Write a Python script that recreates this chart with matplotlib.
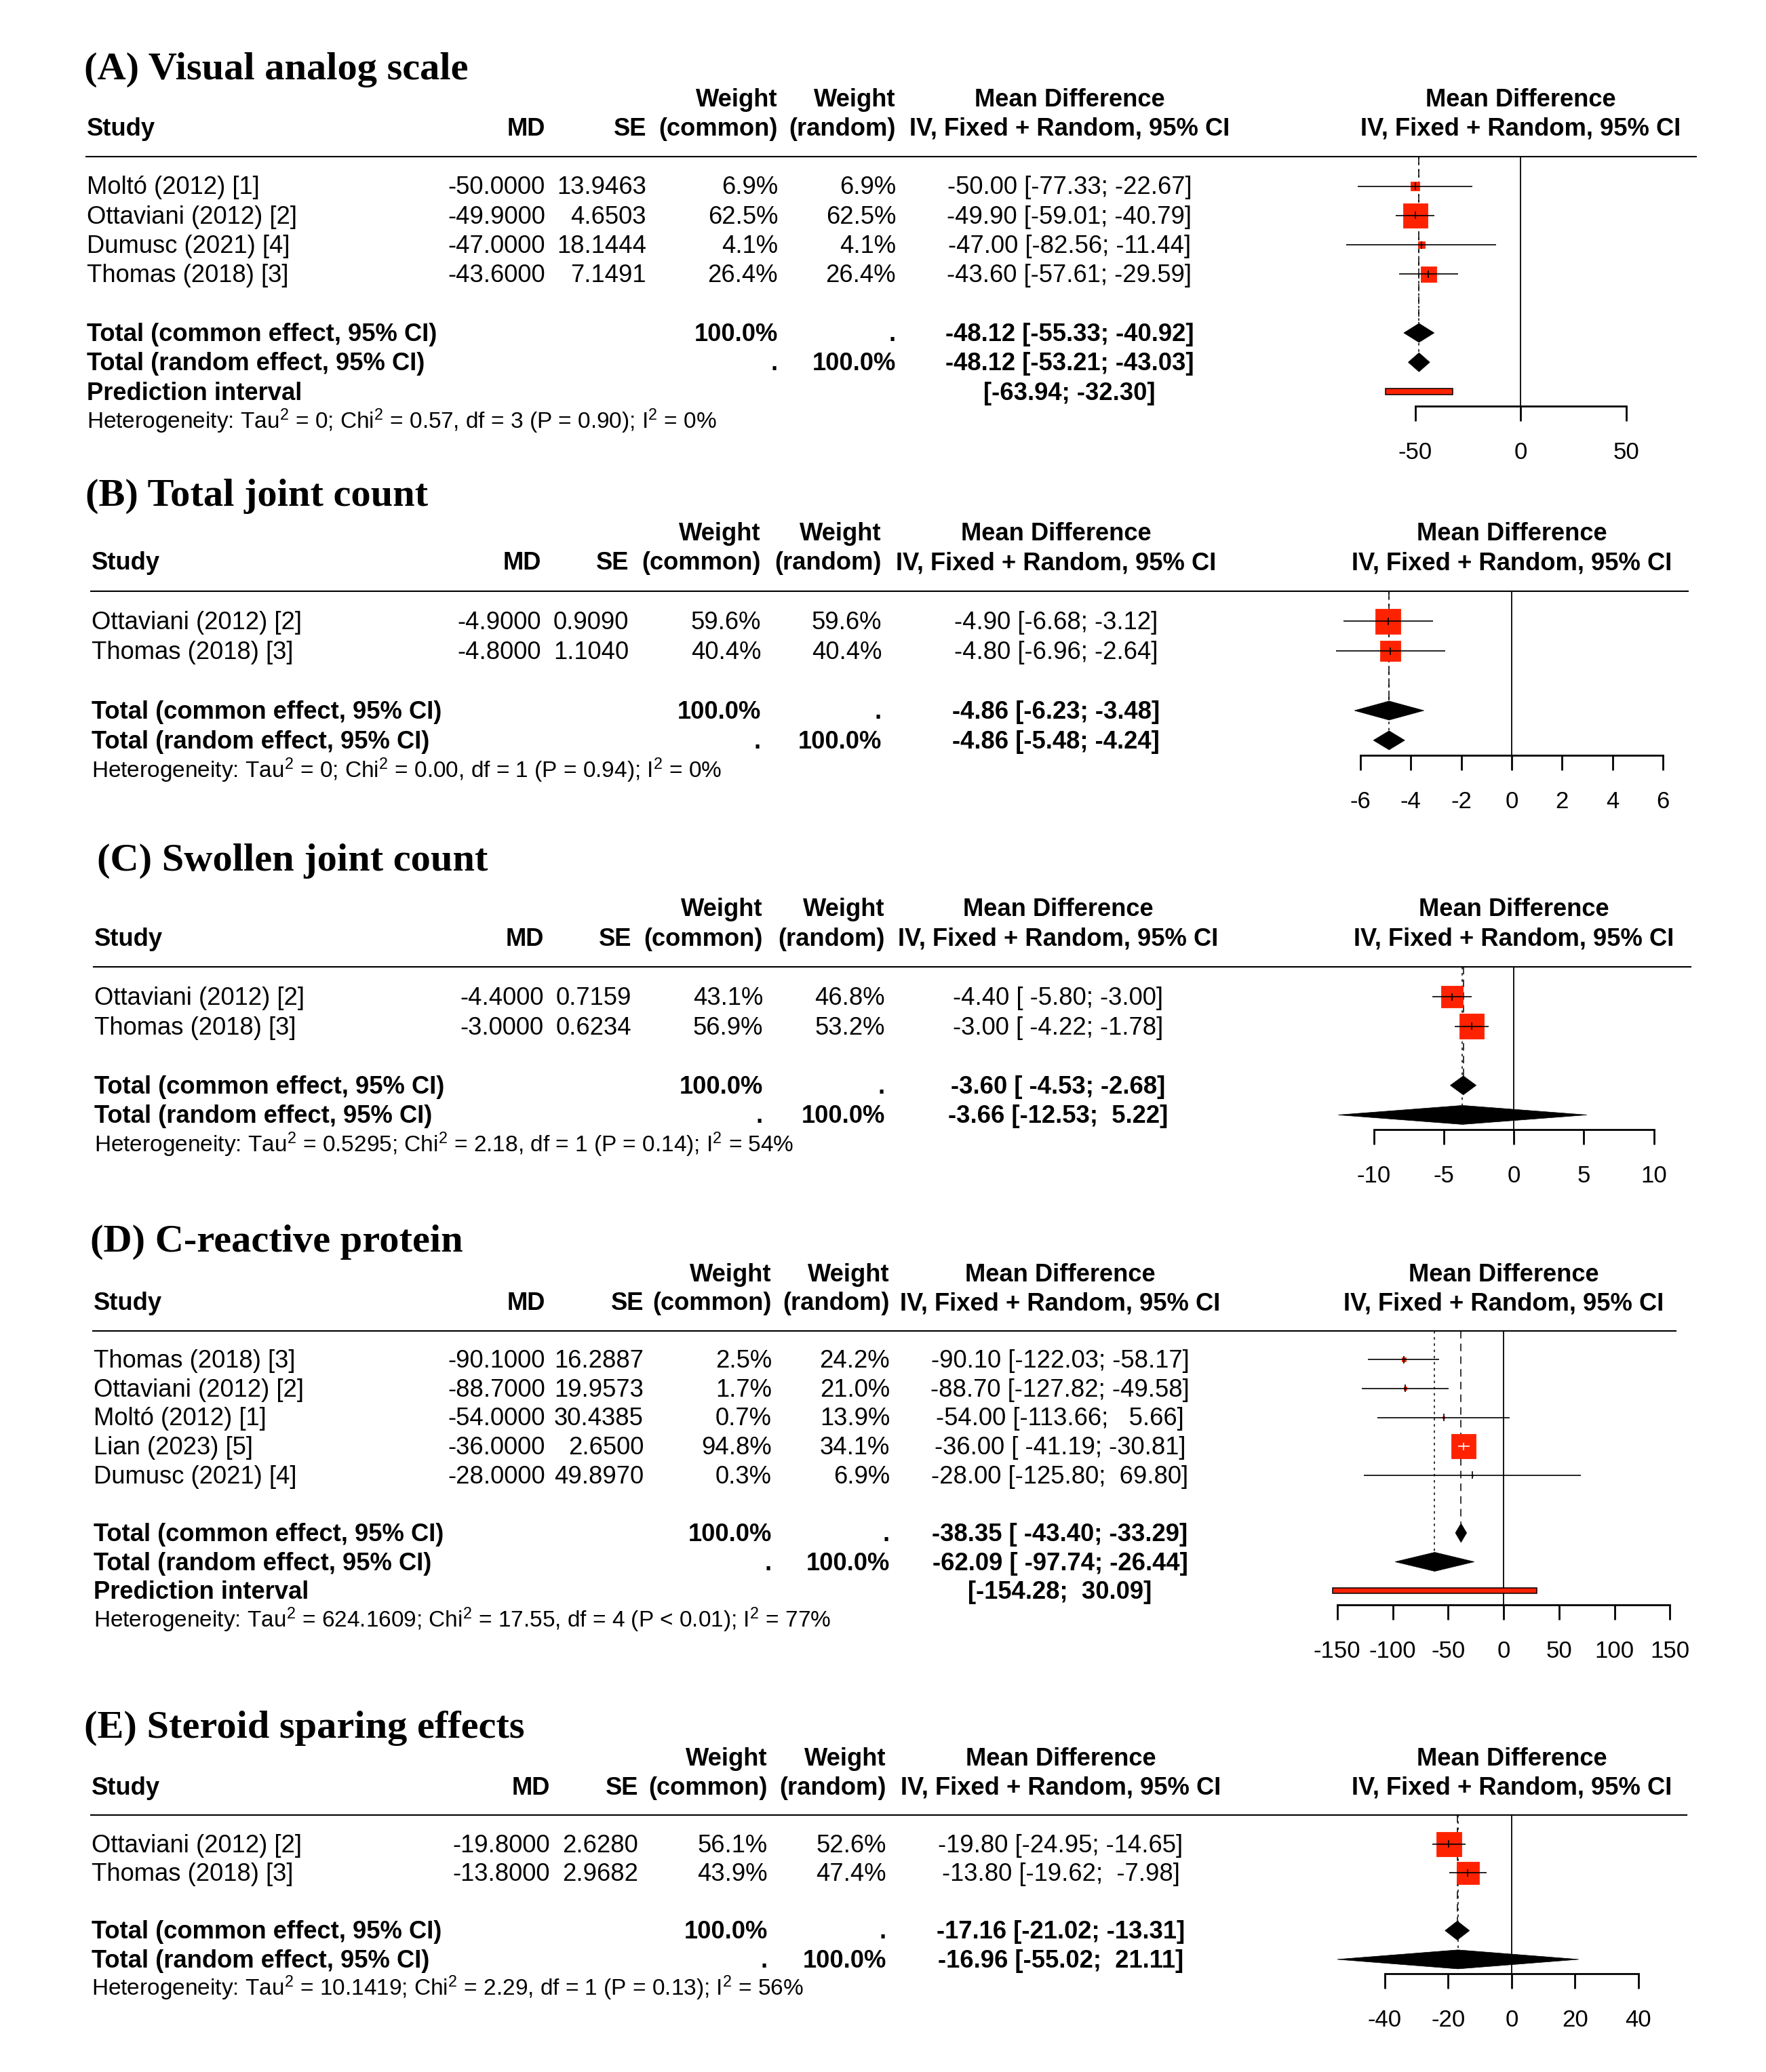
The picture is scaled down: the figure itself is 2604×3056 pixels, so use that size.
import matplotlib
matplotlib.use("Agg")
import matplotlib.pyplot as plt
from matplotlib.patches import Rectangle, Polygon
import numpy as np

plt.rcParams['font.family'] = ['Liberation Sans', 'DejaVu Sans']
plt.rcParams['mathtext.fontset'] = 'custom'
plt.rcParams['mathtext.rm'] = 'Liberation Sans'
plt.rcParams['mathtext.it'] = 'Liberation Sans'
plt.rcParams['mathtext.bf'] = 'Liberation Sans:bold'
plt.rcParams['mathtext.default'] = 'regular'
plt.rcParams['lines.scale_dashes'] = False
plt.rcParams['axes.unicode_minus'] = False

W, H, DPI = 2604, 3056, 100
PX = 72.0 / DPI

# ------------------------------------------------------------------ data
A_title = "(A) Visual analog scale"
A_study = ["Moltó (2012) [1]", "Ottaviani (2012) [2]", "Dumusc (2021) [4]", "Thomas (2018) [3]"]
A_md = [-50.0, -49.9, -47.0, -43.6]
A_se = [13.9463, 4.6503, 18.1444, 7.1491]
A_w_common = [6.9, 62.5, 4.1, 26.4]
A_w_random = [6.9, 62.5, 4.1, 26.4]
A_ci_lower = [-77.33, -59.01, -82.56, -57.61]
A_ci_upper = [-22.67, -40.79, -11.44, -29.59]
A_common = [-48.12, -55.33, -40.92]
A_random = [-48.12, -53.21, -43.03]
A_pred = [-63.94, -32.30]
A_ticks = [-50, 0, 50]
A_het = "Heterogeneity: Tau$^2$ = 0; Chi$^2$ = 0.57, df = 3 (P = 0.90); I$^2$ = 0%"

B_title = "(B) Total joint count"
B_study = ["Ottaviani (2012) [2]", "Thomas (2018) [3]"]
B_md = [-4.9, -4.8]
B_se = [0.9090, 1.1040]
B_w_common = [59.6, 40.4]
B_w_random = [59.6, 40.4]
B_ci_lower = [-6.68, -6.96]
B_ci_upper = [-3.12, -2.64]
B_common = [-4.86, -6.23, -3.48]
B_random = [-4.86, -5.48, -4.24]
B_pred = None
B_ticks = [-6, -4, -2, 0, 2, 4, 6]
B_het = "Heterogeneity: Tau$^2$ = 0; Chi$^2$ = 0.00, df = 1 (P = 0.94); I$^2$ = 0%"

C_title = "(C) Swollen joint count"
C_study = ["Ottaviani (2012) [2]", "Thomas (2018) [3]"]
C_md = [-4.4, -3.0]
C_se = [0.7159, 0.6234]
C_w_common = [43.1, 56.9]
C_w_random = [46.8, 53.2]
C_ci_lower = [-5.80, -4.22]
C_ci_upper = [-3.00, -1.78]
C_common = [-3.60, -4.53, -2.68]
C_random = [-3.66, -12.53, 5.22]
C_pred = None
C_ticks = [-10, -5, 0, 5, 10]
C_het = "Heterogeneity: Tau$^2$ = 0.5295; Chi$^2$ = 2.18, df = 1 (P = 0.14); I$^2$ = 54%"

D_title = "(D) C-reactive protein"
D_study = ["Thomas (2018) [3]", "Ottaviani (2012) [2]", "Moltó (2012) [1]", "Lian (2023) [5]", "Dumusc (2021) [4]"]
D_md = [-90.1, -88.7, -54.0, -36.0, -28.0]
D_se = [16.2887, 19.9573, 30.4385, 2.6500, 49.8970]
D_w_common = [2.5, 1.7, 0.7, 94.8, 0.3]
D_w_random = [24.2, 21.0, 13.9, 34.1, 6.9]
D_ci_lower = [-122.03, -127.82, -113.66, -41.19, -125.80]
D_ci_upper = [-58.17, -49.58, 5.66, -30.81, 69.80]
D_common = [-38.35, -43.40, -33.29]
D_random = [-62.09, -97.74, -26.44]
D_pred = [-154.28, 30.09]
D_ticks = [-150, -100, -50, 0, 50, 100, 150]
D_het = "Heterogeneity: Tau$^2$ = 624.1609; Chi$^2$ = 17.55, df = 4 (P < 0.01); I$^2$ = 77%"

E_title = "(E) Steroid sparing effects"
E_study = ["Ottaviani (2012) [2]", "Thomas (2018) [3]"]
E_md = [-19.8, -13.8]
E_se = [2.6280, 2.9682]
E_w_common = [56.1, 43.9]
E_w_random = [52.6, 47.4]
E_ci_lower = [-24.95, -19.62]
E_ci_upper = [-14.65, -7.98]
E_common = [-17.16, -21.02, -13.31]
E_random = [-16.96, -55.02, 21.11]
E_pred = None
E_ticks = [-40, -20, 0, 20, 40]
E_het = "Heterogeneity: Tau$^2$ = 10.1419; Chi$^2$ = 2.29, df = 1 (P = 0.13); I$^2$ = 56%"

PANELS = [
    dict(title=A_title, study=A_study, md=A_md, se=A_se, wc=A_w_common, wr=A_w_random,
         lo=A_ci_lower, hi=A_ci_upper, common=A_common, random=A_random, pred=A_pred,
         ticks=A_ticks, het=A_het),
    dict(title=B_title, study=B_study, md=B_md, se=B_se, wc=B_w_common, wr=B_w_random,
         lo=B_ci_lower, hi=B_ci_upper, common=B_common, random=B_random, pred=B_pred,
         ticks=B_ticks, het=B_het),
    dict(title=C_title, study=C_study, md=C_md, se=C_se, wc=C_w_common, wr=C_w_random,
         lo=C_ci_lower, hi=C_ci_upper, common=C_common, random=C_random, pred=C_pred,
         ticks=C_ticks, het=C_het),
    dict(title=D_title, study=D_study, md=D_md, se=D_se, wc=D_w_common, wr=D_w_random,
         lo=D_ci_lower, hi=D_ci_upper, common=D_common, random=D_random, pred=D_pred,
         ticks=D_ticks, het=D_het),
    dict(title=E_title, study=E_study, md=E_md, se=E_se, wc=E_w_common, wr=E_w_random,
         lo=E_ci_lower, hi=E_ci_upper, common=E_common, random=E_random, pred=E_pred,
         ticks=E_ticks, het=E_het),
]

# ------------------------------------------------------------------ layout (pixels)
LAYOUT = [
    dict(row0=274.5, sp=43.3, title_x=124, title_base=117, study_x=128, md_r=804, se_r=953,
         wc_r=1147, wr_r=1321, ci_c=1577, zero=2242, scale=3.11, rule_r=2501),
    dict(row0=916.3, sp=43.9, title_x=126, title_base=745.6, study_x=135, md_r=798, se_r=927,
         wc_r=1122, wr_r=1300, ci_c=1557, zero=2229, scale=37.2, rule_r=2489),
    dict(row0=1470, sp=43.6, title_x=142.6, title_base=1283.8, study_x=139, md_r=801.6, se_r=931,
         wc_r=1125, wr_r=1305, ci_c=1560, zero=2232, scale=20.65, rule_r=2493),
    dict(row0=2005.3, sp=42.6, title_x=132.6, title_base=1846, study_x=138.4, md_r=804, se_r=949,
         wc_r=1138, wr_r=1312, ci_c=1563, zero=2217, scale=1.635, rule_r=2471),
    dict(row0=2719.9, sp=42.5, title_x=124.4, title_base=2563, study_x=135, md_r=810.8, se_r=941,
         wc_r=1132, wr_r=1307, ci_c=1564, zero=2229, scale=4.675, rule_r=2487),
]

FS = 26.2
FS_HET = 24.0
FS_TICK = 25
FS_TITLE = 42.0
BASE = 12.0
RED = '#ff2200'
MAX_SQ = 36.5   # px side of the largest square
DIA_H = 14.0    # px half height of diamonds

fig = plt.figure(figsize=(W / DPI, H / DPI), dpi=DPI)
lay = fig.add_axes([0, 0, 1, 1])
lay.set_xlim(0, W)
lay.set_ylim(H, 0)
lay.axis('off')


def fmt_cis(P):
    ests = list(P['md']) + [P['common'][0], P['random'][0]]
    los = list(P['lo']) + [P['common'][1], P['random'][1]]
    his = list(P['hi']) + [P['common'][2], P['random'][2]]
    if P['pred'] is not None:
        los.append(P['pred'][0])
        his.append(P['pred'][1])
    we = max(len(f"{v:.2f}") for v in ests)
    wl = max(len(f"{v:.2f}") for v in los)
    wh = max(len(f"{v:.2f}") for v in his)
    out = [f"{e:>{we}.2f} [{l:>{wl}.2f}; {h:>{wh}.2f}]" for e, l, h in zip(ests, los, his)]
    pred = None
    if P['pred'] is not None:
        pred = f"[{P['pred'][0]:>{wl}.2f}; {P['pred'][1]:>{wh}.2f}]"
    return out, pred


for P, L in zip(PANELS, LAYOUT):
    r0, sp = L['row0'], L['sp']
    n = len(P['study'])
    r_common = n + 1
    r_random = n + 2
    has_pred = P['pred'] is not None
    r_pred = n + 3 if has_pred else None
    r_het = (n + 4) if has_pred else (n + 3)
    axis_row = (r_pred if has_pred else r_random) + 0.5

    def ry(row):
        return r0 + sp * row

    def txt(x, row, s, ha='left', bold=False, size=FS):
        lay.text(x, ry(row) + BASE * size / FS, s, ha=ha, va='baseline', fontsize=size,
                 fontweight='bold' if bold else 'normal', color='black')

    # title
    lay.text(L['title_x'], L['title_base'], P['title'], ha='left', va='baseline',
             fontsize=FS_TITLE, fontweight='bold', family=['Liberation Serif', 'DejaVu Serif'])

    ticks = P['ticks']
    left = L['zero'] + L['scale'] * min(ticks)
    right = L['zero'] + L['scale'] * max(ticks)
    fc = 0.5 * (left + right)

    # headers
    txt(L['wc_r'], -3, "Weight", 'right', True)
    txt(L['wr_r'], -3, "Weight", 'right', True)
    txt(L['ci_c'], -3, "Mean Difference", 'center', True)
    txt(fc, -3, "Mean Difference", 'center', True)
    txt(L['study_x'], -2, "Study", 'left', True)
    txt(L['md_r'], -2, "MD", 'right', True)
    txt(L['se_r'], -2, "SE", 'right', True)
    txt(L['wc_r'], -2, "(common)", 'right', True)
    txt(L['wr_r'], -2, "(random)", 'right', True)
    txt(L['ci_c'], -2, "IV, Fixed + Random, 95% CI", 'center', True)
    txt(fc, -2, "IV, Fixed + Random, 95% CI", 'center', True)

    # rule under header
    lay.plot([L['study_x'] - 1, L['rule_r']], [ry(-1), ry(-1)], color='black', lw=1.5)

    cis, pred_s = fmt_cis(P)
    for i in range(n):
        txt(L['study_x'], i, P['study'][i])
        txt(L['md_r'], i, f"{P['md'][i]:.4f}", 'right')
        txt(L['se_r'], i, f"{P['se'][i]:.4f}", 'right')
        txt(L['wc_r'], i, f"{P['wc'][i]:.1f}%", 'right')
        txt(L['wr_r'], i, f"{P['wr'][i]:.1f}%", 'right')
        txt(L['ci_c'], i, cis[i], 'center')
    txt(L['study_x'], r_common, "Total (common effect, 95% CI)", bold=True)
    txt(L['wc_r'], r_common, "100.0%", 'right', True)
    txt(L['wr_r'], r_common, ".", 'right', True)
    txt(L['ci_c'], r_common, cis[n], 'center', True)
    txt(L['study_x'], r_random, "Total (random effect, 95% CI)", bold=True)
    txt(L['wc_r'], r_random, ".", 'right', True)
    txt(L['wr_r'], r_random, "100.0%", 'right', True)
    txt(L['ci_c'], r_random, cis[n + 1], 'center', True)
    if has_pred:
        txt(L['study_x'], r_pred, "Prediction interval", bold=True)
        txt(L['ci_c'], r_pred, pred_s, 'center', True)
    txt(L['study_x'], r_het, P['het'], size=FS_HET)

    # forest axes
    top, bot = ry(-1), ry(axis_row)
    fax = fig.add_axes([left / W, 1 - bot / H, (right - left) / W, (bot - top) / H])
    fax.set_xlim(min(ticks), max(ticks))
    fax.set_ylim(axis_row, -1)
    fax.patch.set_alpha(0)
    for s in ['top', 'right', 'left']:
        fax.spines[s].set_visible(False)
    fax.spines['bottom'].set_linewidth(2.0)
    fax.set_xticks(ticks)
    fax.set_yticks([])
    fax.tick_params(axis='x', direction='out', length=22 * PX, width=2.0,
                    labelsize=FS_TICK, pad=30 * PX)

    sx = L['scale']
    # zero line
    fax.axvline(0, color='black', lw=1.3, zorder=1)
    # pooled reference lines
    dh = DIA_H / sp
    c_est, c_lo, c_hi = P['common']
    r_est, r_lo, r_hi = P['random']
    fax.plot([c_est, c_est], [-1, r_common - dh], color='black', lw=1.1,
             ls=(0, (8, 5.5)), clip_on=False, zorder=2)
    fax.plot([r_est, r_est], [-1, r_random - dh], color='black', lw=1.1,
             ls=(0, (2.6, 4.0)), clip_on=False, zorder=2)

    # studies
    wmax = max(P['wc'])
    for i in range(n):
        side = MAX_SQ * np.sqrt(P['wc'][i] / wmax)
        hw, hh = side / 2 / sx, side / 2 / sp
        fax.add_patch(Rectangle((P['md'][i] - hw, i - hh), 2 * hw, 2 * hh, facecolor=RED,
                                edgecolor=RED, lw=0.6, clip_on=False, zorder=3))
        inside = (P['hi'][i] - P['lo'][i]) * sx < side
        lc = 'white' if inside else 'black'
        fax.plot([P['lo'][i], P['hi'][i]], [i, i], color=lc, lw=1.2, clip_on=False,
                 solid_capstyle='butt', zorder=4)
        fax.plot([P['md'][i], P['md'][i]], [i - 5.5 / sp, i + 5.5 / sp], color=lc, lw=1.2,
                 clip_on=False, solid_capstyle='butt', zorder=4)

    # diamonds
    for (est, lo, hi), rr in [(P['common'], r_common), (P['random'], r_random)]:
        fax.add_patch(Polygon([(lo, rr), (est, rr - dh), (hi, rr), (est, rr + dh)],
                              closed=True, facecolor='black', edgecolor='black', lw=0.5,
                              clip_on=False, zorder=5))
    # prediction interval
    if has_pred:
        ph = 4.2 / sp
        fax.add_patch(Rectangle((P['pred'][0], r_pred - ph), P['pred'][1] - P['pred'][0], 2 * ph,
                                facecolor=RED, edgecolor='black', lw=1.1, clip_on=False, zorder=5))

fig.savefig("out.png", dpi=DPI)
